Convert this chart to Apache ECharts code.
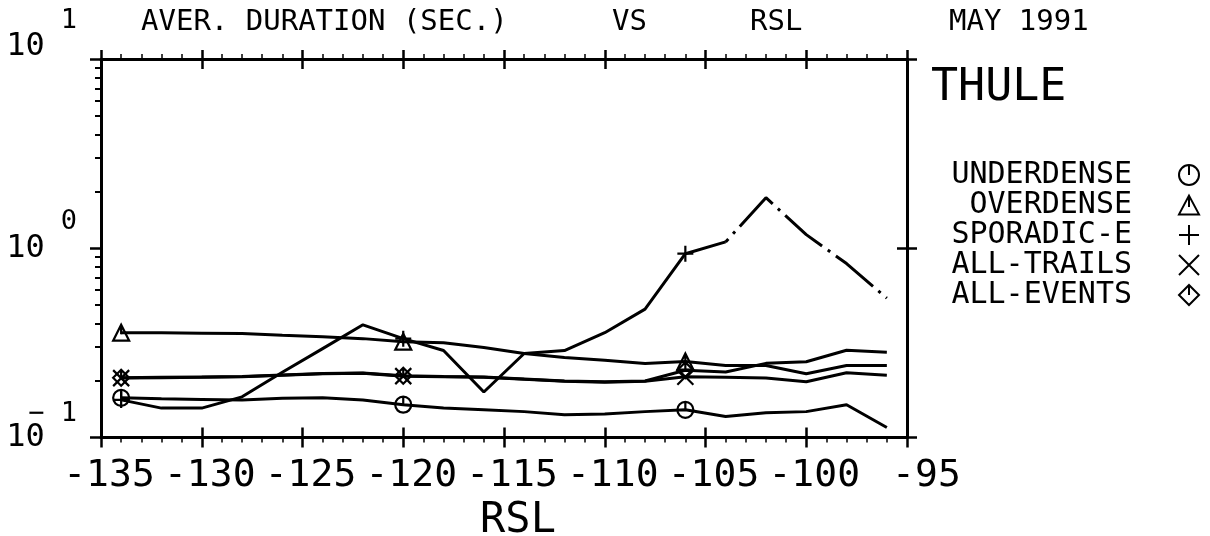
<!DOCTYPE html>
<html>
<head>
<meta charset="utf-8">
<script src="https://cdn.jsdelivr.net/npm/echarts@6/dist/echarts.min.js"></script>
<style>
  html, body { margin: 0; padding: 0; background: #fff; }
  #chart { width: 1210px; height: 536px; }
</style>
</head>
<body>
<div id="chart"></div>
<script>
// RSL bins (dBm), one point every 2 units
const rsl = [-134, -132, -130, -128, -126, -124, -122, -120, -118, -116,
             -114, -112, -110, -108, -106, -104, -102, -100, -98, -96];

// average duration (sec.) per bin
const underdense = [0.162, 0.160, 0.159, 0.158, 0.161, 0.162, 0.158, 0.149, 0.143, 0.140,
                    0.137, 0.132, 0.133, 0.137, 0.140, 0.129, 0.135, 0.137, 0.149, 0.113];
const overdense  = [0.358, 0.358, 0.356, 0.354, 0.347, 0.341, 0.333, 0.321, 0.317, 0.299,
                    0.278, 0.265, 0.256, 0.246, 0.252, 0.240, 0.240, 0.217, 0.240, 0.240];
const sporadicE  = [0.158, 0.143, 0.143, 0.164, 0.221, 0.295, 0.394, 0.333, 0.288, 0.174,
                    0.278, 0.288, 0.358, 0.477, 0.936, 1.08, 1.85, 1.18, 0.83, 0.545];
const allTrails  = [0.206, 0.207, 0.208, 0.2095, 0.213, 0.217, 0.2185, 0.211, 0.2095, 0.208,
                    0.203, 0.1985, 0.196, 0.1985, 0.2095, 0.208, 0.206, 0.197, 0.220, 0.213];
const allEvents  = [0.207, 0.208, 0.209, 0.210, 0.214, 0.218, 0.219, 0.212, 0.210, 0.209,
                    0.204, 0.199, 0.197, 0.199, 0.2265, 0.222, 0.2465, 0.2515, 0.289, 0.282];

const markerIdx = [0, 7, 14];
const minorY = [0.2, 0.3, 0.4, 0.5, 0.6, 0.7, 0.8, 0.9, 2, 3, 4, 5, 6, 7, 8, 9];

const mono = "'DejaVu Sans Mono', monospace";

// plotter-like marker symbols
const symUnder = 'path://M2,10 A8,8 0 1,1 18,10 A8,8 0 1,1 2,10 Z M10,2 L10,10';
const symOver  = 'path://M10,2 L18,17 L2,17 Z M10,2 L10,11';
const symSpor  = 'path://M10,1 L10,19 M1,10 L19,10';
const symTrail = 'path://M2,2 L18,18 M18,2 L2,18';
const symEvent = 'path://M10,2 L18,10 L10,18 L2,10 Z M10,2 L10,10';

function pairs(vals, from, to) {
    return rsl.slice(from, to).map((x, i) => [x, vals[from + i]]);
}

function lineSeries(name, data, symbol) {
    return {
        name: name,
        type: 'line',
        data: data,
        symbol: symbol,
        symbolSize: (v, p) => markerIdx.includes(p.dataIndex) ? 16 : 0,
        showAllSymbol: true,
        lineStyle: { color: '#000', width: 3 },
        itemStyle: { color: 'rgba(0,0,0,0)', borderColor: '#000', borderWidth: 2.2 },
        emphasis: { disabled: true },
        z: 3
    };
}

const tickLine = { color: '#000', width: 2.5 };
const axisLine = { show: true, lineStyle: { color: '#000', width: 3 } };
const headStyle = { fontFamily: mono, fontSize: 29, fontWeight: 'normal', color: '#000' };

let chart = echarts.init(document.getElementById('chart'));

let option = {
    animation: false,
    backgroundColor: '#fff',
    title: [
        { text: 'AVER. DURATION (SEC.)', left: 141, top: 8, padding: 0, textStyle: headStyle },
        { text: 'VS', left: 612, top: 8, padding: 0, textStyle: headStyle },
        { text: 'RSL', left: 750, top: 8, padding: 0, textStyle: headStyle },
        { text: 'MAY 1991', left: 949, top: 8, padding: 0, textStyle: headStyle },
        { text: 'THULE', left: 931, top: 66, padding: 0,
          textStyle: { fontFamily: mono, fontSize: 45, fontWeight: 'normal', color: '#000' } }
    ],
    legend: {
        orient: 'vertical',
        right: 10,
        top: 160,
        padding: 0,
        align: 'right',
        itemWidth: 20,
        itemHeight: 20,
        itemGap: 0,
        selectedMode: false,
        data: [
            { name: 'UNDERDENSE', icon: symUnder },
            { name: 'OVERDENSE', icon: symOver },
            { name: 'SPORADIC-E', icon: symSpor },
            { name: 'ALL-TRAILS', icon: symTrail },
            { name: 'ALL-EVENTS', icon: symEvent }
        ],
        itemStyle: { color: 'rgba(0,0,0,0)', borderColor: '#000', borderWidth: 2 },
        textStyle: { fontFamily: mono, fontSize: 30, lineHeight: 30, color: '#000', padding: [0, 42, 0, 0] }
    },
    grid: [
        { left: 101, right: 303, top: 59, bottom: 98.5, outerBoundsMode: 'none' },
        { left: 101, right: 303, top: 59, bottom: 98.5, outerBoundsMode: 'none' }
    ],
    xAxis: [
        {   // bottom: labels, outward ticks
            gridIndex: 0, type: 'value', position: 'bottom', min: -135, max: -95, interval: 5,
            axisLine: axisLine,
            axisTick: { length: 10, lineStyle: tickLine },
            minorTick: { show: true, splitNumber: 5, length: 5, lineStyle: { color: '#000', width: 1.5 } },
            splitLine: { show: false },
            axisLabel: { margin: 20, fontFamily: mono, fontSize: 38, color: '#000',
                         padding: [0, 0, 0, 16],
                         formatter: v => (v > -100 ? '\u00a0' : '') + String(v) },
            name: 'RSL', nameLocation: 'middle', nameGap: 60,
            nameTextStyle: { fontFamily: mono, fontSize: 42, color: '#000', padding: [0, 0, 0, 28] }
        },
        {   // top: outward ticks
            gridIndex: 0, type: 'value', position: 'top', min: -135, max: -95, interval: 5,
            axisLine: axisLine,
            axisTick: { length: 9, lineStyle: tickLine },
            minorTick: { show: true, splitNumber: 5, length: 5, lineStyle: { color: '#000', width: 1.5 } },
            splitLine: { show: false },
            axisLabel: { show: false }
        },
        {   // bottom inward ticks
            gridIndex: 1, type: 'value', position: 'bottom', min: -135, max: -95, interval: 5,
            axisLine: { show: false },
            axisTick: { inside: true, length: 10, lineStyle: tickLine },
            splitLine: { show: false },
            axisLabel: { show: false }
        },
        {   // top inward ticks
            gridIndex: 1, type: 'value', position: 'top', min: -135, max: -95, interval: 5,
            axisLine: { show: false },
            axisTick: { inside: true, length: 10, lineStyle: tickLine },
            splitLine: { show: false },
            axisLabel: { show: false }
        }
    ],
    yAxis: [
        {   // left: labels
            gridIndex: 0, type: 'log', logBase: 10, position: 'left', min: 0.1, max: 10,
            axisLine: axisLine,
            axisTick: { length: 11, lineStyle: tickLine },
            splitLine: { show: false },
            axisLabel: {
                margin: 24,
                color: '#000',
                formatter: v => {
                    const e = Math.round(Math.log10(v));
                    if (e > 0) return '{bt|10}{st|\u00a0\u00a0' + e + '}';
                    if (e === 0) return '{b|10}{s0|\u00a0\u00a0' + e + '}';
                    return '{b|10}{sn|\u2212\u00a0' + (-e) + '}';
                },
                rich: {
                    b:  { fontFamily: mono, fontSize: 32, lineHeight: 32, width: 22, align: 'left', color: '#000' },
                    bt: { fontFamily: mono, fontSize: 32, lineHeight: 32, width: 22, align: 'left', color: '#000',
                          padding: [0, 0, 24, 0] },
                    st: { fontFamily: mono, fontSize: 27, lineHeight: 27, padding: [0, 0, 76, 0], color: '#000' },
                    s0: { fontFamily: mono, fontSize: 27, lineHeight: 27, padding: [0, 0, 52, 0], color: '#000' },
                    sn: { fontFamily: mono, fontSize: 27, lineHeight: 27, padding: [0, 0, 48, 0], color: '#000' }
                }
            }
        },
        {   // right
            gridIndex: 0, type: 'log', logBase: 10, position: 'right', min: 0.1, max: 10,
            axisLine: axisLine,
            axisTick: { length: 10, lineStyle: tickLine },
            splitLine: { show: false },
            axisLabel: { show: false }
        },
        {   // left minor ticks
            gridIndex: 1, type: 'log', logBase: 10, position: 'left', min: 0.1, max: 10,
            axisLine: { show: false },
            axisTick: { length: 6, customValues: minorY, lineStyle: { color: '#000', width: 2 } },
            splitLine: { show: false },
            axisLabel: { show: false }
        },
        {   // right inward decade ticks
            gridIndex: 1, type: 'log', logBase: 10, position: 'right', min: 0.1, max: 10,
            axisLine: { show: false },
            axisTick: { inside: true, length: 10, lineStyle: tickLine },
            splitLine: { show: false },
            axisLabel: { show: false }
        }
    ],
    series: [
        lineSeries('UNDERDENSE', pairs(underdense, 0, rsl.length), symUnder),
        lineSeries('OVERDENSE', pairs(overdense, 0, rsl.length), symOver),
        lineSeries('SPORADIC-E', pairs(sporadicE, 0, 16), symSpor),
        Object.assign(lineSeries('SPORADIC-E (sparse)', pairs(sporadicE, 15, rsl.length), 'none'), {
            lineStyle: { color: '#000', width: 3, type: [48, 7, 3, 7], dashOffset: 44 }
        }),
        lineSeries('ALL-TRAILS', pairs(allTrails, 0, rsl.length), symTrail),
        lineSeries('ALL-EVENTS', pairs(allEvents, 0, rsl.length), symEvent)
    ]
};

chart.setOption(option);
</script>
</body>
</html>
